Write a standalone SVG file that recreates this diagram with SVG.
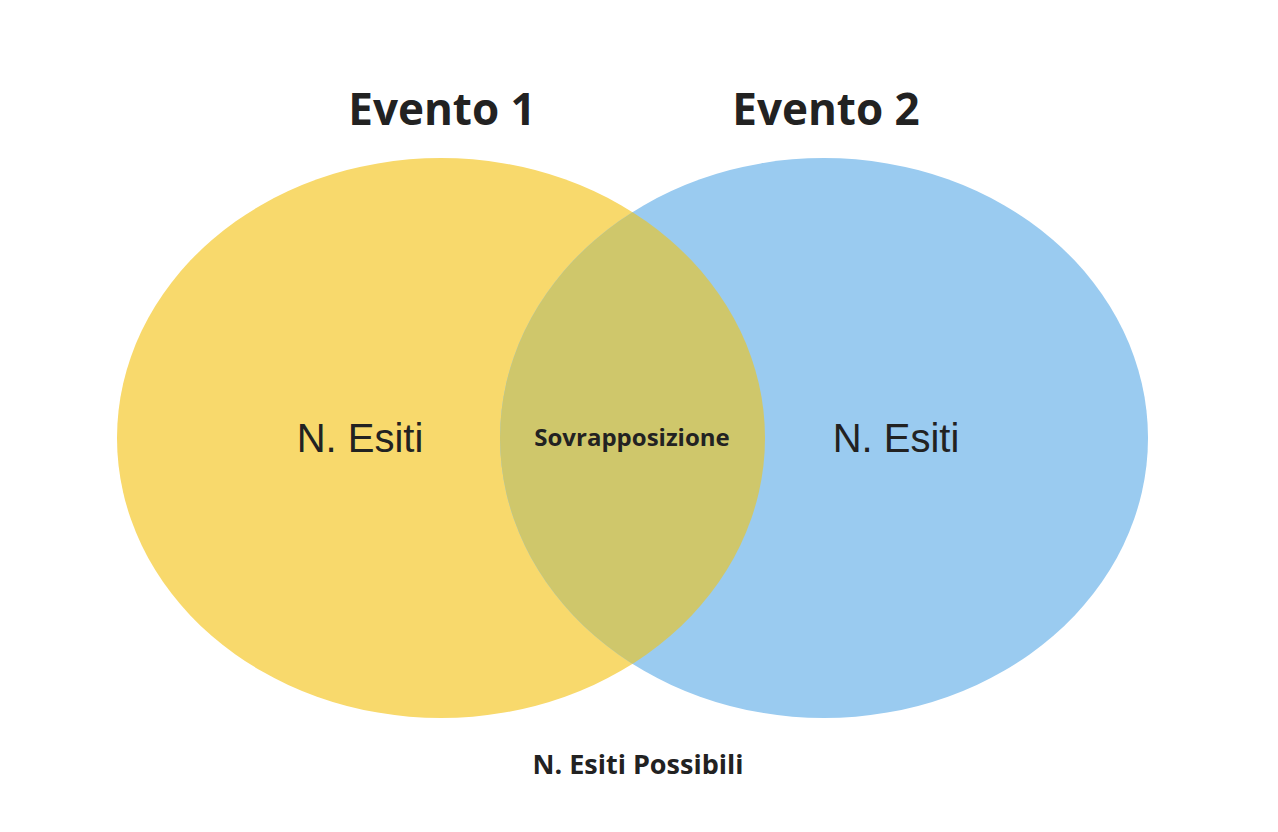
<svg xmlns="http://www.w3.org/2000/svg" width="1278" height="832" viewBox="0 0 1278 832">
<style>
.t{font-family:"Open Sans","Liberation Sans",sans-serif;font-weight:bold;fill:#222;text-anchor:middle}
.n{font-family:"Liberation Sans",Arial,sans-serif;font-size:40px;fill:#222;text-anchor:middle}
</style>
<defs><clipPath id="cy"><ellipse cx="441" cy="438" rx="324" ry="280"/></clipPath></defs>
<rect width="1278" height="832" fill="#fff"/>
<g id="evento1"><ellipse cx="441" cy="438" rx="324" ry="280" fill="#F8D96C"/></g>
<g id="evento2"><ellipse cx="824" cy="438" rx="324" ry="280" fill="#9ACBF0"/></g>
<g id="sovrapposizione"><ellipse cx="824" cy="438" rx="324" ry="280" fill="#CFC76B" clip-path="url(#cy)"/>
<text class="t" x="632" y="446" font-size="24">Sovrapposizione</text></g>
<g id="labels">
<text class="t" x="442" y="125" font-size="44">Evento 1</text>
<text class="t" x="826" y="125" font-size="44">Evento 2</text>
<text class="n" x="360" y="452">N. Esiti</text>
<text class="n" x="896" y="452">N. Esiti</text>
<text class="t" x="638" y="774" font-size="27">N. Esiti Possibili</text>
</g>
<g id="connectors"/>
</svg>
